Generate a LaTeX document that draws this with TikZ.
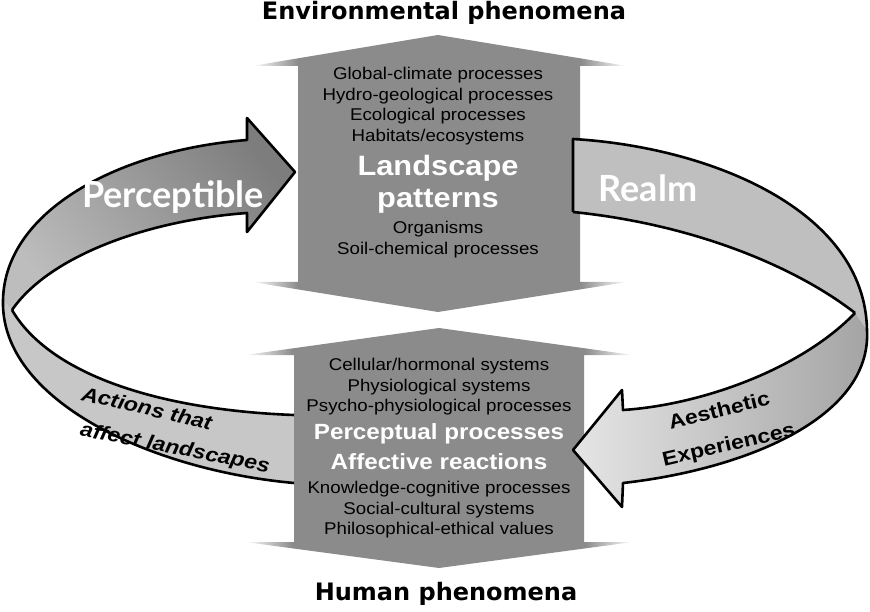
\documentclass[tikz,border=0pt]{standalone}
\usepackage{fontspec}
\setmainfont{Liberation Sans}
\newfontfamily\blockfont[FakeStretch=1.1]{Liberation Sans}
\newfontfamily\bandfont[FakeStretch=1.15]{Liberation Sans}
\newfontfamily\headfont{DejaVu Sans}
\newfontfamily\ringfont{Lato}
\usepackage{xcolor}
\usepackage{tikz}

\definecolor{blockgray}{gray}{0.545}
\definecolor{percdark}{gray}{0.49}
\definecolor{perclight}{gray}{0.74}
\definecolor{realmgray}{gray}{0.75}
\definecolor{actgray}{gray}{0.78}
\definecolor{aesdark}{gray}{0.64}
\definecolor{aeslight}{gray}{0.9}

% grey body, wedges of the heads fade out to white
\pgfdeclarehorizontalshading{blockfade}{100bp}{color(0bp)=(white); color(25bp)=(white);
  color(31.1bp)=(blockgray); color(68.8bp)=(blockgray); color(75bp)=(white); color(100bp)=(white)}

\begin{document}
\begin{tikzpicture}[
x=1pt,y=-1pt,
band/.style={draw=black,line width=2.6pt,line join=round},
small/.style={font={\blockfont\fontsize{17}{20}\selectfont},anchor=base,inner sep=0pt},
key/.style={font={\blockfont\bfseries\fontsize{22}{24}\selectfont},text=white,anchor=base,inner sep=0pt},
big/.style={font={\blockfont\bfseries\fontsize{28}{30}\selectfont},text=white,anchor=base,inner sep=0pt},
title/.style={font={\headfont\bfseries\fontsize{24}{26}\selectfont},anchor=base,inner sep=0pt},
ring/.style={font={\ringfont\bfseries\fontsize{36}{38}\selectfont},text=white,anchor=base,inner sep=0pt},
actlabel/.style={font={\bandfont\bfseries\itshape\fontsize{20}{24}\selectfont},inner sep=0pt},
aeslabel/.style={font={\bandfont\bfseries\fontsize{20}{24}\selectfont},inner sep=0pt}
]
\useasboundingbox (0,0) rectangle (870,612);

% Back half of the ring
\fill[actgray] (12,310) .. controls (50,375) and (160,410) .. (294,415) -- (294,483)
  .. controls (150,470) and (0,400) .. (3,300) -- cycle;
\shade[top color=percdark,bottom color=perclight,shading angle=-50]
  (247,140) -- (247,118) -- (295,172) -- (247,232) -- (247,213)
  .. controls (150,220) and (50,255) .. (12,310) -- (3,300)
  .. controls (5,210) and (120,150) .. (247,140) -- cycle;

% Blocks
\shade[shading=blockfade] (438,35) -- (627,66) -- (580,66) -- (580,282) -- (627,282)
  -- (438,312) -- (252,282) -- (298,282) -- (298,66) -- (252,66) -- cycle;
\shade[shading=blockfade] (439,328) -- (633,355) -- (584,355) -- (584,542) -- (633,542)
  -- (439,568) -- (245,542) -- (294,542) -- (294,355) -- (245,355) -- cycle;

% Front half of the ring
\fill[realmgray] (573,139) .. controls (710,147) and (865,210) .. (867,330) -- (855,313)
  .. controls (800,270) and (700,225) .. (573,212) -- cycle;
\shade[left color=aeslight,right color=aesdark]
  (855,313) .. controls (800,370) and (700,405) .. (623,410) -- (622,390) -- (573,450)
  -- (622,507) -- (623,483) .. controls (740,470) and (872,420) .. (867,330) -- cycle;

% Outlines
\draw[band] (12,310) .. controls (50,375) and (160,410) .. (294,415);
\draw[band] (12,310) .. controls (50,255) and (150,220) .. (247,213) -- (247,232) -- (295,172)
  -- (247,118) -- (247,140) .. controls (120,150) and (5,210) .. (3,300)
  .. controls (0,400) and (150,470) .. (294,483);
\draw[band] (573,212) -- (573,139) .. controls (710,147) and (865,210) .. (867,330);
\draw[band] (573,212) .. controls (700,225) and (800,270) .. (855,313);
\draw[band] (855,313) .. controls (800,370) and (700,405) .. (623,410) -- (622,390) -- (573,450)
  -- (622,507) -- (623,483) .. controls (740,470) and (872,420) .. (867,330);

% Titles
\node[title] (env) at (444,20) {Environmental phenomena};
\node[title] (hum) at (446,600) {Human phenomena};

% Environmental block
\node[small] (glob) at (438,80) {Global-climate processes};
\node[small] (hydro) at (438,100.5) {Hydro-geological processes};
\node[small] (eco) at (438,121) {Ecological processes};
\node[small] (hab) at (438,141.5) {Habitats/ecosystems};
\node[big] (land) at (438,175.5) {Landscape};
\node[big] (patt) at (438,208) {patterns};
\node[small] (org) at (438,234) {Organisms};
\node[small] (soil) at (438,255) {Soil-chemical processes};

% Human block
\node[small] (cell) at (439,370) {Cellular/hormonal systems};
\node[small] (phys) at (439,391) {Physiological systems};
\node[small] (psy) at (439,411.5) {Psycho-physiological processes};
\node[key] (perc) at (439,439) {Perceptual processes};
\node[key] (aff) at (439,469) {Affective reactions};
\node[small] (know) at (439,493) {Knowledge-cognitive processes};
\node[small] (soc) at (439,514) {Social-cultural systems};
\node[small] (phil) at (439,534) {Philosophical-ethical values};

% Ring labels
\node[ring] (percept) at (173,208) {Perceptible};
\node[ring] (realm) at (648,202) {Realm};
\node[actlabel,rotate=-13] (act1) at (147,408) {Actions that};
\node[actlabel,rotate=-11] (act2) at (175,449) {affect landscapes};
\node[aeslabel,rotate=14] (aes1) at (719,410) {Aesthetic};
\node[aeslabel,rotate=13] (aes2) at (729,446) {Experiences};

\end{tikzpicture}
\end{document}
